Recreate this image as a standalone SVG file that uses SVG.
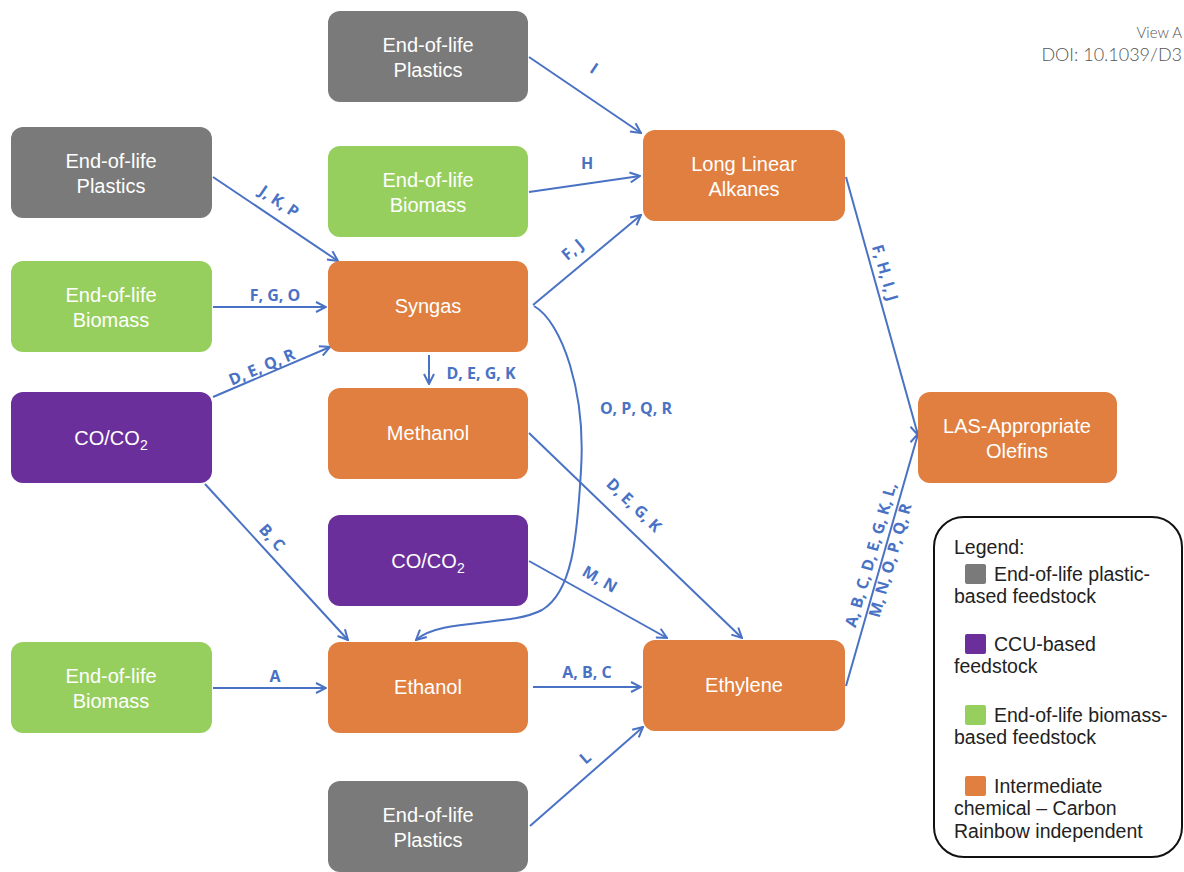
<svg xmlns="http://www.w3.org/2000/svg" width="1184" height="872" viewBox="0 0 1184 872">
<style>
.n text{font-family:"Liberation Sans",Arial,sans-serif;font-size:20px;fill:#fff;text-anchor:middle}
.gray{fill:#7a7a7a}.green{fill:#97cf5e}.purple{fill:#6a2f9b}.orange{fill:#e07f3f}
.e{fill:none;stroke:#4a72c4;stroke-width:2;marker-end:url(#ah)}
.l{font-family:"Open Sans","DejaVu Sans",sans-serif;font-weight:700;font-size:16px;fill:#4a72c4;text-anchor:middle}
.lg{font-family:"Liberation Sans",Arial,sans-serif;font-size:19.5px;fill:#222}
.hd{font-family:"Lato","Open Sans",sans-serif;font-weight:300;fill:#555;text-anchor:end}
</style>
<defs>
<marker id="ah" viewBox="0 0 12 12" refX="11" refY="6" markerWidth="12" markerHeight="12" markerUnits="userSpaceOnUse" orient="auto">
<path d="M1,1 L11,6 L1,11" fill="none" stroke="#4a72c4" stroke-width="2"/>
</marker>
</defs>
<rect width="1184" height="872" fill="#fff"/>
<text class="hd" x="1182" y="38" font-size="15">View A</text>
<text class="hd" x="1182" y="61" font-size="18">DOI: 10.1039/D3</text>

<g id="connectors">
<path class="e" d="M529,57 L641,133"/>
<path class="e" d="M529,192 L640,176"/>
<path class="e" d="M533,305 L641,215"/>
<path class="e" d="M213,177 L338,261"/>
<path class="e" d="M213,307 L326,307"/>
<path class="e" d="M213,397 L330,347"/>
<path class="e" d="M429,355 L429,384"/>
<path class="e" d="M534,306 C562,322 586,392 581,470 C577,540 572,592 542,610 C510,627 440,618 416,640"/>
<path class="e" d="M529,433 L742,638"/>
<path class="e" d="M529,561 L667,638"/>
<path class="e" d="M205,484 L348,640"/>
<path class="e" d="M213,688 L326,688"/>
<path class="e" d="M533,687 L641,687"/>
<path class="e" d="M530,826 L643,727"/>
<path class="e" d="M846,686 L918,434"/>
<path class="e" d="M846,177 L918,435"/>
<text class="l" transform="translate(591,73) rotate(34)">I</text>
<text class="l" x="587" y="169">H</text>
<text class="l" transform="translate(576,254) rotate(-40)">F, J</text>
<text class="l" transform="translate(276,206) rotate(34)">J, K, P</text>
<text class="l" x="275" y="301">F, G, O</text>
<text class="l" transform="translate(264,372) rotate(-23)">D, E, Q, R</text>
<text class="l" x="481" y="379">D, E, G, K</text>
<text class="l" x="636" y="414">O, P, Q, R</text>
<text class="l" transform="translate(630,509) rotate(44)">D, E, G, K</text>
<text class="l" transform="translate(597,584) rotate(30)">M, N</text>
<text class="l" transform="translate(268,541) rotate(48)">B, C</text>
<text class="l" x="275" y="682">A</text>
<text class="l" x="587" y="678">A, B, C</text>
<text class="l" transform="translate(589,762) rotate(-41)">L</text>
<g transform="translate(882,558) rotate(-74)">
<text class="l" x="0" y="-6">A, B, C, D, E, G, K, L,</text>
<text class="l" x="0" y="14">M, N, O, P, Q, R</text>
</g>
<text class="l" transform="translate(874,276) rotate(74)" x="0" y="-6">F, H, I, J</text>
</g>

<g id="plastics-top" class="n"><rect class="gray" x="328" y="11" width="200" height="91" rx="12"/><text x="428" y="52">End-of-life</text><text x="428" y="77">Plastics</text></g>
<g id="plastics-left" class="n"><rect class="gray" x="11" y="127" width="201" height="91" rx="12"/><text x="111" y="168">End-of-life</text><text x="111" y="193">Plastics</text></g>
<g id="biomass-mid" class="n"><rect class="green" x="328" y="146" width="200" height="91" rx="12"/><text x="428" y="187">End-of-life</text><text x="428" y="212">Biomass</text></g>
<g id="alkanes" class="n"><rect class="orange" x="643" y="130" width="202" height="91" rx="12"/><text x="744" y="171">Long Linear</text><text x="744" y="196">Alkanes</text></g>
<g id="biomass-left" class="n"><rect class="green" x="11" y="261" width="201" height="91" rx="12"/><text x="111" y="302">End-of-life</text><text x="111" y="327">Biomass</text></g>
<g id="syngas" class="n"><rect class="orange" x="328" y="261" width="200" height="91" rx="12"/><text x="428" y="313">Syngas</text></g>
<g id="co2-left" class="n"><rect class="purple" x="11" y="392" width="201" height="91" rx="12"/><text x="111" y="445">CO/CO<tspan font-size="14" dy="5">2</tspan></text></g>
<g id="methanol" class="n"><rect class="orange" x="328" y="388" width="200" height="91" rx="12"/><text x="428" y="440">Methanol</text></g>
<g id="olefins" class="n"><rect class="orange" x="918" y="392" width="199" height="91" rx="12"/><text x="1017" y="433">LAS-Appropriate</text><text x="1017" y="458">Olefins</text></g>
<g id="co2-mid" class="n"><rect class="purple" x="328" y="515" width="200" height="91" rx="12"/><text x="428" y="568">CO/CO<tspan font-size="14" dy="5">2</tspan></text></g>
<g id="biomass-bottom" class="n"><rect class="green" x="11" y="642" width="201" height="91" rx="12"/><text x="111" y="683">End-of-life</text><text x="111" y="708">Biomass</text></g>
<g id="ethanol" class="n"><rect class="orange" x="328" y="642" width="200" height="91" rx="12"/><text x="428" y="694">Ethanol</text></g>
<g id="ethylene" class="n"><rect class="orange" x="643" y="640" width="202" height="91" rx="12"/><text x="744" y="692">Ethylene</text></g>
<g id="plastics-bottom" class="n"><rect class="gray" x="328" y="781" width="200" height="91" rx="12"/><text x="428" y="822">End-of-life</text><text x="428" y="847">Plastics</text></g>

<g id="legend">
<rect x="934" y="517" width="248" height="340" rx="30" fill="#fff" stroke="#111" stroke-width="2"/>
<text class="lg" x="954" y="554">Legend:</text>
<rect x="965" y="564" width="21" height="20" rx="2" fill="#7a7a7a"/>
<text class="lg" x="994" y="581">End-of-life plastic-</text>
<text class="lg" x="954" y="603">based feedstock</text>
<rect x="965" y="634" width="21" height="20" rx="2" fill="#6a2f9b"/>
<text class="lg" x="994" y="651">CCU-based</text>
<text class="lg" x="954" y="673">feedstock</text>
<rect x="965" y="705" width="21" height="20" rx="2" fill="#97cf5e"/>
<text class="lg" x="994" y="722">End-of-life biomass-</text>
<text class="lg" x="954" y="744">based feedstock</text>
<rect x="965" y="776" width="21" height="20" rx="2" fill="#e07f3f"/>
<text class="lg" x="994" y="793">Intermediate</text>
<text class="lg" x="954" y="815">chemical – Carbon</text>
<text class="lg" x="954" y="838">Rainbow independent</text>
</g>
</svg>
